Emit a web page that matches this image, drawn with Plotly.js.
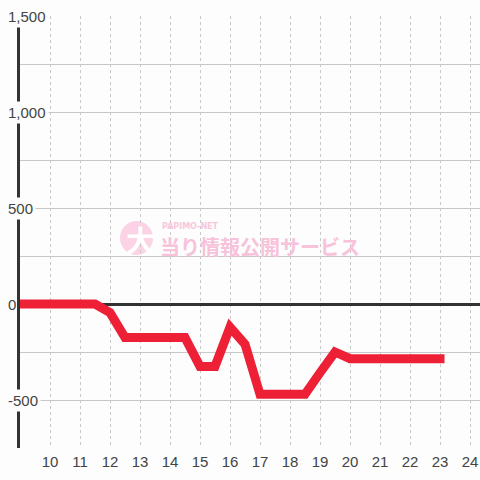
<!DOCTYPE html>
<html>
<head>
<meta charset="utf-8">
<script src="https://cdn.plot.ly/plotly-3.0.1.min.js"></script>
<style>
html,body{margin:0;padding:0;background:#fcfdfc;}
#chart{width:480px;height:480px;}
</style>
</head>
<body>
<div id="chart"></div>
<script>
// Data
var hours = [9, 9.5, 10, 10.5, 11, 11.5, 12, 12.5, 13, 13.5, 14, 14.5, 15, 15.5, 16, 16.5, 17, 17.5, 18, 18.5, 19, 19.5, 20, 20.5, 21, 21.5, 22, 22.5, 23];
var balance = [0, 0, 0, 0, 0, 0, -45, -175, -175, -175, -175, -175, -325, -325, -120, -210, -470, -470, -470, -470, -358, -250, -285, -285, -285, -285, -285, -285, -285];
var xTickVals = [10, 11, 12, 13, 14, 15, 16, 17, 18, 19, 20, 21, 22, 23, 24];
var yTickVals = [1500, 1000, 500, 0, -500];
var yTickText = ['1,500', '1,000', '500', '0', '-500'];
var watermarkSmall = 'PAPIMO-NET';
var watermarkBig = '当り情報公開サービス';
var watermarkMark = '大';

var BG = '#fcfdfc';
var W = 480, H = 480, ML = 20, MR = 0, MT = 16, MB = 32;
var PW = W - ML - MR, PH = H - MT - MB;
function px2paperX(px){ return (px - ML) / PW; }
function px2paperY(py){ return (H - MB - py) / PH; }

var trace = {
  x: hours, y: balance, type: 'scatter', mode: 'lines',
  line: {color: '#ed2035', width: 9},
  cliponaxis: false, hoverinfo: 'skip'
};

var annotations = yTickVals.map(function(v, i){
  return {
    xref: 'paper', yref: 'y', x: px2paperX(5), y: v,
    xanchor: 'left', yanchor: 'middle', showarrow: false,
    text: yTickText[i], bgcolor: v === 0 ? 'rgba(0,0,0,0)' : BG, borderpad: 2,
    font: {family: 'Liberation Sans, Arial, sans-serif', size: 15, color: '#444'}
  };
});
annotations.push({
  xref: 'paper', yref: 'paper', x: px2paperX(140), y: px2paperY(239),
  xanchor: 'center', yanchor: 'middle', showarrow: false, text: '<b>' + watermarkMark + '</b>',
  font: {family: 'Noto Sans CJK JP', size: 29, color: '#ffffff'}
});
annotations.push({
  xref: 'paper', yref: 'paper', x: px2paperX(160), y: px2paperY(226.5),
  xanchor: 'left', yanchor: 'middle', showarrow: false, text: '<b>' + watermarkSmall + '</b>',
  font: {family: 'DejaVu Sans', size: 8, color: '#f8c6dc'}
});
annotations.push({
  xref: 'paper', yref: 'paper', x: px2paperX(158), y: px2paperY(246),
  xanchor: 'left', yanchor: 'middle', showarrow: false, text: '<b>' + watermarkBig + '</b>',
  font: {family: 'Noto Sans CJK JP', size: 20, color: '#f8c2da'}
});

var layout = {
  width: W, height: H,
  margin: {l: ML, r: MR, t: MT, b: MB, pad: 0},
  paper_bgcolor: BG, plot_bgcolor: BG,
  showlegend: false,
  xaxis: {
    range: [9, 9 + PW / 30], tickmode: 'array', tickvals: xTickVals,
    showgrid: true, gridcolor: '#c8c8c8', gridwidth: 1, griddash: 'dot',
    zeroline: false, showline: false, ticks: '', ticklabelstandoff: 3,
    tickfont: {family: 'Liberation Sans, Arial, sans-serif', size: 15, color: '#444'}
  },
  yaxis: {
    range: [-750, 1500], dtick: 250, tick0: 0,
    showgrid: true, gridcolor: '#c8c8c8', gridwidth: 1,
    zeroline: true, zerolinecolor: '#333333', zerolinewidth: 3,
    showline: true, linecolor: '#333333', linewidth: 3,
    showticklabels: false, ticks: ''
  },
  shapes: [{
    type: 'circle', xref: 'paper', yref: 'paper', layer: 'between',
    x0: px2paperX(120), x1: px2paperX(153), y0: px2paperY(255), y1: px2paperY(221),
    fillcolor: '#fcd3e4', line: {width: 0}
  }],
  annotations: annotations
};

Plotly.newPlot('chart', [trace], layout, {displayModeBar: false, staticPlot: true}).then(function(){
  document.querySelectorAll('.scatterlayer path.js-line').forEach(function(p){
    p.style.strokeLinecap = 'square';
  });
});
</script>
</body>
</html>
